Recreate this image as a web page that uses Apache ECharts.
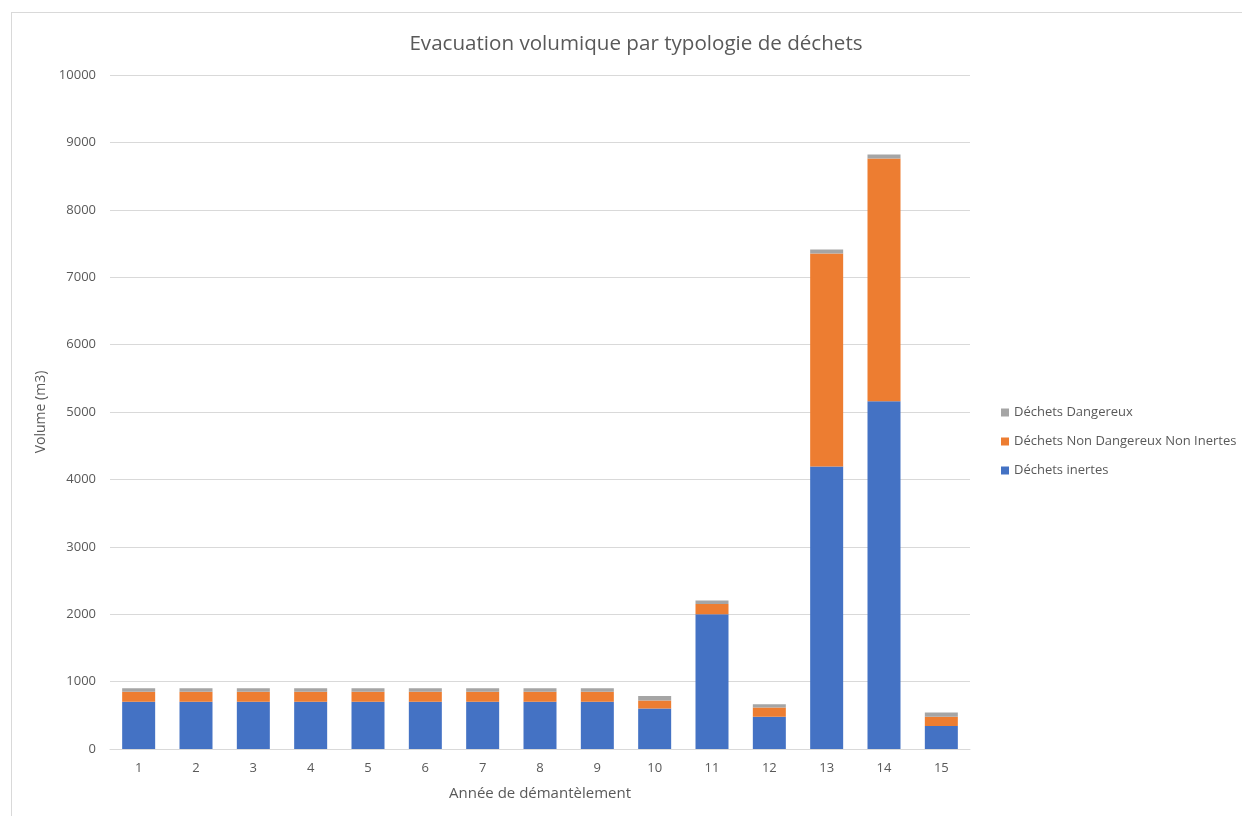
<!DOCTYPE html>
<html>
<head>
<meta charset="utf-8">
<script src="https://cdn.jsdelivr.net/npm/echarts@6/dist/echarts.min.js"></script>
<style>
html,body{margin:0;padding:0;background:#fff;}
#frame{position:absolute;left:11px;top:12px;width:1240px;height:810px;border:1px solid #d9d9d9;box-sizing:border-box;}
#chart{position:absolute;left:0;top:0;width:1242px;height:816px;}
</style>
</head>
<body>
<div id="frame"></div>
<div id="chart"></div>
<script>
const categories = ['1','2','3','4','5','6','7','8','9','10','11','12','13','14','15'];
const inertes = [700,700,700,700,700,700,700,700,700,600,2000,480,4190,5160,340];
const nonDangereux = [150,150,150,150,150,150,150,150,150,120,150,135,3160,3600,140];
const dangereux = [50,50,50,50,50,50,50,50,50,65,55,50,60,60,60];
const yTicks = [0,1000,2000,3000,4000,5000,6000,7000,8000,9000,10000];

const font = '"Open Sans", "Liberation Sans", sans-serif';
const chart = echarts.init(document.getElementById('chart'));
const barW = 33;
chart.setOption({
  animation:false,
  title:{text:'Evacuation volumique par typologie de déchets',left:631,top:29,textAlign:'center',
    textStyle:{fontFamily:font,fontSize:20.6,fontWeight:'normal',color:'#595959'}},
  legend:{orient:'vertical',left:996,top:401,itemWidth:8,itemHeight:8,itemGap:16,
    data:['Déchets Dangereux','Déchets Non Dangereux Non Inertes','Déchets inertes'],
    textStyle:{fontFamily:font,fontSize:13,color:'#595959'},icon:'rect'},
  grid:{left:110,right:272,top:75,bottom:67,containLabel:false},
  xAxis:{type:'category',data:categories,
    name:'Année de démantèlement',nameLocation:'middle',nameGap:37,
    nameTextStyle:{fontFamily:font,fontSize:15,color:'#595959'},
    axisLine:{lineStyle:{color:'#d9d9d9'}},axisTick:{show:false},
    axisLabel:{fontFamily:font,fontSize:13,color:'#595959',margin:13}},
  yAxis:{type:'value',min:yTicks[0],max:yTicks[yTicks.length-1],interval:1000,
    name:'Volume (m3)',nameLocation:'middle',nameGap:58,
    nameTextStyle:{fontFamily:font,fontSize:14,color:'#595959'},
    axisLine:{show:false},axisTick:{show:false},
    axisLabel:{fontFamily:font,fontSize:13,color:'#595959',margin:14,formatter:v=>String(v)},
    splitLine:{lineStyle:{color:'#d9d9d9',width:1}}},
  series:[
    {name:'Déchets inertes',type:'bar',stack:'s',data:inertes,barWidth:barW,itemStyle:{color:'#4472C4'}},
    {name:'Déchets Non Dangereux Non Inertes',type:'bar',stack:'s',data:nonDangereux,barWidth:barW,itemStyle:{color:'#ED7D31'}},
    {name:'Déchets Dangereux',type:'bar',stack:'s',data:dangereux,barWidth:barW,itemStyle:{color:'#A5A5A5'}}
  ]
});
</script>
</body>
</html>
